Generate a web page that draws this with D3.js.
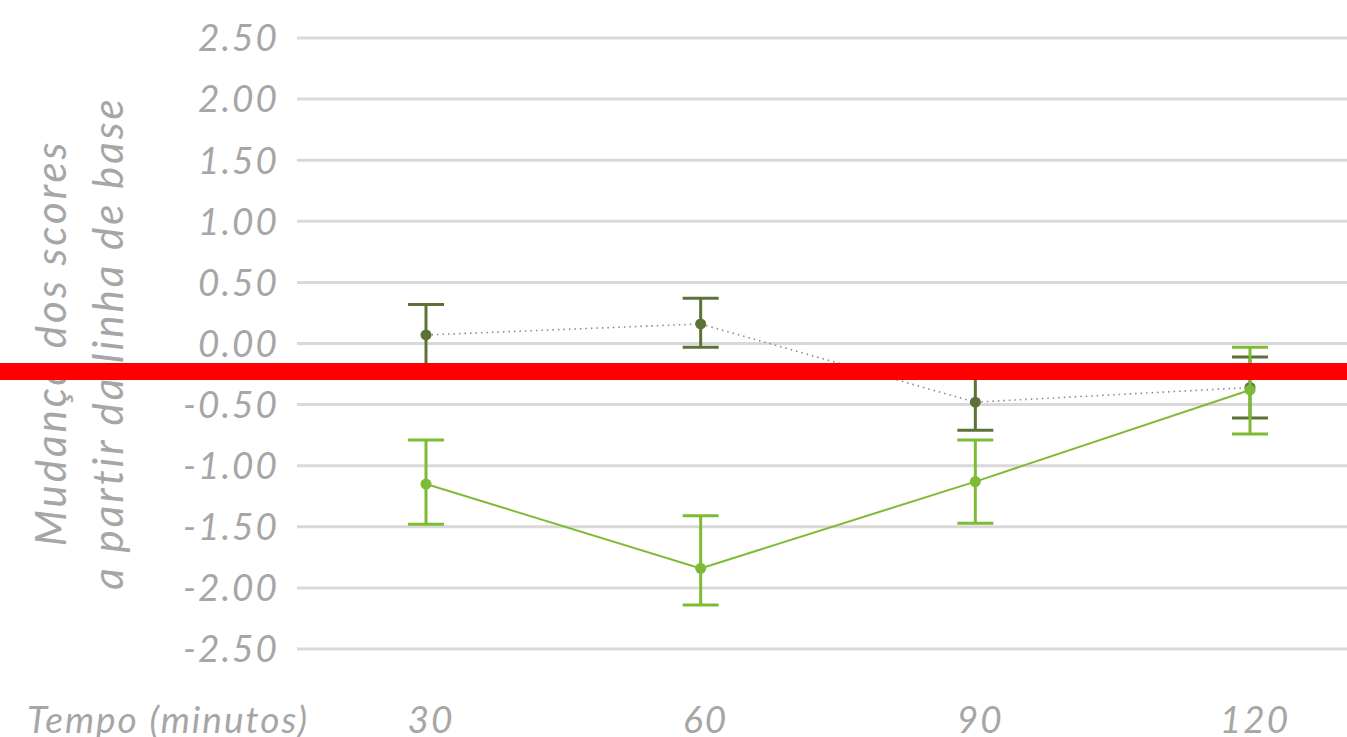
<!DOCTYPE html>
<html>
<head>
<meta charset="utf-8">
<script src="https://cdn.jsdelivr.net/npm/d3@7"></script>
<style>
  body { margin: 0; background: #fff; }
  svg { display: block; }
  text { font-family: Lato, "Noto Sans", sans-serif; font-style: italic; fill: #a6a6a6; }
</style>
</head>
<body>
<svg width="1347" height="737"></svg>
<script>
// Chart data
const times = ["30", "60", "90", "120"];
const yTicks = [2.5, 2, 1.5, 1, 0.5, 0, -0.5, -1, -1.5, -2, -2.5];

const darkMean = [0.07, 0.16, -0.48, -0.36];
const darkLow = [-0.18, -0.03, -0.71, -0.61];
const darkHigh = [0.32, 0.37, -0.25, -0.11];

const lightMean = [-1.15, -1.84, -1.13, -0.38];
const lightLow = [-1.48, -2.14, -1.47, -0.74];
const lightHigh = [-0.79, -1.41, -0.79, -0.03];

const width = 1347;
const height = 737;
const svg = d3.select("svg");

const y = d3.scaleLinear().domain([-2.5, 2.5]).range([649, 38]);
const x = d3.scalePoint().domain(times).range([426, 1250]);

// Grid lines
svg.append("g")
    .selectAll("line")
    .data(yTicks)
    .enter()
    .append("line")
    .attr("x1", 297)
    .attr("x2", width)
    .attr("y1", d => y(d))
    .attr("y2", d => y(d))
    .style("stroke", "#d9d9d9")
    .style("stroke-width", 3);

// Y tick labels (plain hyphen, as in the source)
svg.append("g")
    .selectAll("text")
    .data(yTicks)
    .enter()
    .append("text")
    .attr("x", 279)
    .attr("y", d => y(d))
    .attr("dy", "0.36em")
    .attr("text-anchor", "end")
    .style("font-size", "37px")
    .style("letter-spacing", "2px")
    .text(d => d.toFixed(2));

// X labels
svg.append("g")
    .selectAll("text")
    .data(times)
    .enter()
    .append("text")
    .attr("x", d => x(d) + 5)
    .attr("y", 733)
    .attr("text-anchor", "middle")
    .style("font-size", "37px")
    .style("letter-spacing", "2px")
    .text(d => d);

svg.append("text")
    .attr("x", 27)
    .attr("y", 733)
    .style("font-size", "37px")
    .style("letter-spacing", "2px")
    .text("Tempo (minutos)");

// Y axis title
const title = svg.append("text")
    .attr("transform", "translate(66,343) rotate(-90)")
    .attr("text-anchor", "middle")
    .style("font-size", "42px")
    .style("letter-spacing", "3px");
title.append("tspan").attr("x", 0).attr("dy", 0).text("Mudança dos scores");
title.append("tspan").attr("x", 0).attr("dy", 57).text("a partir da linha de base");

function drawSeries(mean, low, high, color, dotted) {

    const g = svg.append("g");
    const pts = times.map((t, i) => ({ t: t, m: mean[i], lo: low[i], hi: high[i] }));

    const line = d3.line().x(d => x(d.t)).y(d => y(d.m));
    g.append("path")
        .datum(pts)
        .attr("d", line)
        .style("fill", "none")
        .style("stroke", dotted ? "#8a8a8a" : color)
        .style("stroke-width", dotted ? 1.6 : 2)
        .style("stroke-dasharray", dotted ? "1.5,4" : null);

    const bars = g.selectAll(".err").data(pts).enter().append("g");
    bars.append("line")
        .attr("x1", d => x(d.t)).attr("x2", d => x(d.t))
        .attr("y1", d => y(d.hi)).attr("y2", d => y(d.lo))
        .style("stroke", color).style("stroke-width", 3);
    [d => d.hi, d => d.lo].forEach(f => {
        bars.append("line")
            .attr("x1", d => x(d.t) - 18).attr("x2", d => x(d.t) + 18)
            .attr("y1", d => y(f(d))).attr("y2", d => y(f(d)))
            .style("stroke", color).style("stroke-width", 3);
    });
    bars.append("circle")
        .attr("cx", d => x(d.t))
        .attr("cy", d => y(d.m))
        .attr("r", 5.5)
        .style("fill", color);
}

drawSeries(darkMean, darkLow, darkHigh, "#5c7237", true);
drawSeries(lightMean, lightLow, lightHigh, "#7dbb35", false);

// Red band across the picture
svg.append("rect")
    .attr("x", 0)
    .attr("y", 363)
    .attr("width", width)
    .attr("height", 17)
    .style("fill", "#ff0000");
</script>
</body>
</html>
